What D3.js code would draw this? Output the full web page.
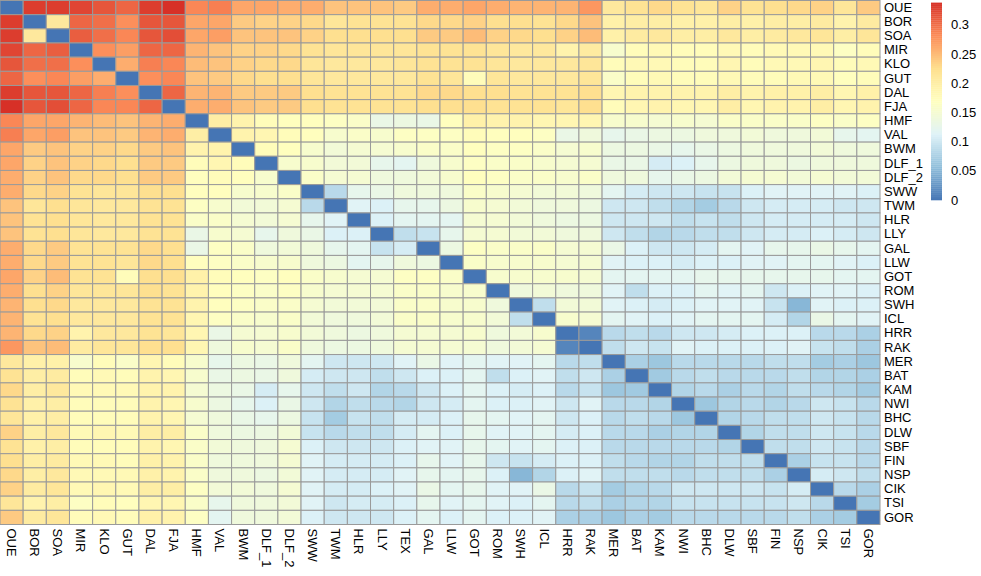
<!DOCTYPE html>
<html>
<head>
<meta charset="utf-8">
<script src="https://cdn.jsdelivr.net/npm/d3@7"></script>
<style>
  body { margin: 0; background: #fff; }
  text { font-family: "Liberation Sans", Arial, sans-serif; }
</style>
</head>
<body>
<svg id="screen"></svg>
<script>
//
// pairwise distance heatmap (pheatmap look-alike)
//

// population names, columns (TEX has no row of its own)
let populations = ["OUE","BOR","SOA","MIR","KLO","GUT","DAL","FJA","HMF","VAL","BWM","DLF_1","DLF_2",
  "SWW","TWM","HLR","LLY","TEX","GAL","LLW","GOT","ROM","SWH","ICL","HRR","RAK","MER","BAT","KAM",
  "NWI","BHC","DLW","SBF","FIN","NSP","CIK","TSI","GOR"]

let rowPopulations = populations.filter(d => d != "TEX")

// lower triangle: distLower[i][j] = distance between populations i and j (j < i)
let distLower = [
  [],
  [0.33],
  [0.33,0.21],
  [0.325,0.305,0.31],
  [0.315,0.30,0.30,0.28],
  [0.305,0.28,0.285,0.27,0.26],
  [0.33,0.315,0.315,0.305,0.29,0.28],
  [0.338,0.315,0.32,0.305,0.285,0.285,0.305],
  [0.285,0.265,0.265,0.255,0.25,0.245,0.255,0.26],
  [0.29,0.265,0.27,0.245,0.245,0.24,0.255,0.26,0.20],
  [0.265,0.24,0.245,0.235,0.235,0.23,0.24,0.245,0.19,0.19],
  [0.265,0.235,0.245,0.235,0.23,0.225,0.24,0.24,0.175,0.185,0.175],
  [0.26,0.235,0.245,0.23,0.23,0.225,0.24,0.24,0.17,0.175,0.17,0.155],
  [0.26,0.23,0.235,0.22,0.215,0.215,0.225,0.225,0.17,0.17,0.155,0.155,0.16],
  [0.245,0.215,0.225,0.215,0.21,0.21,0.22,0.22,0.165,0.155,0.145,0.145,0.15,0.085],
  [0.245,0.22,0.225,0.215,0.21,0.21,0.22,0.22,0.16,0.16,0.15,0.145,0.15,0.125,0.115],
  [0.245,0.22,0.225,0.215,0.21,0.21,0.22,0.22,0.13,0.155,0.15,0.125,0.14,0.13,0.11,0.11],
  [0.24,0.22,0.225,0.215,0.215,0.21,0.22,0.22,0.135,0.165,0.155,0.12,0.14,0.14,0.125,0.12,0.09],
  [0.26,0.23,0.24,0.22,0.22,0.22,0.23,0.225,0.13,0.165,0.16,0.14,0.145,0.14,0.125,0.12,0.095,0.105],
  [0.26,0.23,0.24,0.22,0.22,0.215,0.23,0.225,0.17,0.165,0.16,0.155,0.155,0.14,0.135,0.12,0.125,0.14,0.135],
  [0.265,0.235,0.25,0.22,0.22,0.175,0.225,0.225,0.195,0.175,0.17,0.165,0.17,0.16,0.155,0.15,0.15,0.165,0.165,0.16],
  [0.26,0.225,0.235,0.215,0.215,0.215,0.225,0.22,0.19,0.17,0.165,0.16,0.165,0.155,0.15,0.15,0.15,0.16,0.16,0.155,0.155],
  [0.255,0.225,0.23,0.21,0.21,0.21,0.22,0.22,0.19,0.17,0.165,0.16,0.16,0.15,0.145,0.145,0.145,0.16,0.16,0.155,0.155,0.14],
  [0.255,0.22,0.225,0.21,0.21,0.21,0.22,0.22,0.185,0.165,0.16,0.155,0.16,0.145,0.14,0.14,0.145,0.16,0.16,0.155,0.155,0.145,0.09],
  [0.255,0.23,0.235,0.19,0.21,0.21,0.22,0.215,0.185,0.13,0.15,0.15,0.155,0.145,0.14,0.135,0.14,0.15,0.15,0.15,0.155,0.14,0.145,0.155],
  [0.275,0.245,0.25,0.205,0.215,0.215,0.225,0.225,0.185,0.14,0.155,0.15,0.16,0.14,0.135,0.135,0.14,0.15,0.15,0.15,0.15,0.14,0.145,0.15,0.012],
  [0.21,0.195,0.195,0.155,0.175,0.16,0.185,0.175,0.155,0.125,0.135,0.13,0.14,0.12,0.10,0.10,0.10,0.115,0.13,0.115,0.12,0.115,0.115,0.12,0.085,0.09],
  [0.22,0.20,0.205,0.175,0.18,0.175,0.19,0.185,0.155,0.13,0.135,0.13,0.14,0.105,0.10,0.10,0.09,0.10,0.11,0.11,0.12,0.09,0.11,0.115,0.09,0.10,0.075],
  [0.23,0.20,0.21,0.18,0.18,0.18,0.19,0.19,0.15,0.135,0.13,0.105,0.125,0.10,0.09,0.10,0.08,0.085,0.10,0.11,0.12,0.11,0.105,0.11,0.085,0.095,0.065,0.068],
  [0.22,0.195,0.20,0.175,0.175,0.175,0.19,0.185,0.155,0.135,0.125,0.11,0.13,0.10,0.08,0.09,0.085,0.08,0.10,0.105,0.12,0.11,0.11,0.115,0.10,0.115,0.085,0.085,0.08],
  [0.215,0.195,0.20,0.175,0.175,0.175,0.19,0.185,0.15,0.14,0.13,0.125,0.135,0.095,0.07,0.095,0.09,0.105,0.105,0.11,0.125,0.12,0.115,0.12,0.10,0.11,0.085,0.09,0.085,0.065],
  [0.235,0.20,0.21,0.18,0.185,0.18,0.20,0.20,0.16,0.14,0.135,0.135,0.145,0.095,0.085,0.09,0.09,0.105,0.12,0.11,0.125,0.115,0.115,0.12,0.105,0.11,0.085,0.085,0.075,0.08,0.08],
  [0.22,0.195,0.20,0.175,0.175,0.175,0.19,0.185,0.16,0.145,0.14,0.14,0.15,0.11,0.10,0.10,0.10,0.11,0.115,0.115,0.125,0.12,0.115,0.12,0.11,0.11,0.085,0.085,0.085,0.085,0.085,0.08],
  [0.225,0.20,0.205,0.18,0.18,0.175,0.195,0.19,0.16,0.14,0.14,0.14,0.15,0.115,0.105,0.105,0.105,0.11,0.125,0.115,0.125,0.10,0.095,0.105,0.11,0.11,0.09,0.085,0.08,0.08,0.09,0.09,0.09],
  [0.23,0.20,0.21,0.18,0.18,0.18,0.195,0.19,0.16,0.14,0.14,0.135,0.145,0.115,0.105,0.105,0.105,0.115,0.125,0.12,0.125,0.11,0.05,0.08,0.11,0.115,0.09,0.09,0.09,0.085,0.09,0.09,0.09,0.075],
  [0.235,0.205,0.215,0.18,0.185,0.18,0.20,0.20,0.165,0.145,0.145,0.14,0.15,0.115,0.105,0.105,0.11,0.115,0.13,0.12,0.125,0.115,0.115,0.13,0.085,0.095,0.07,0.08,0.085,0.10,0.10,0.10,0.10,0.095,0.105],
  [0.215,0.19,0.20,0.165,0.175,0.17,0.185,0.185,0.16,0.125,0.14,0.14,0.145,0.115,0.10,0.105,0.105,0.11,0.125,0.115,0.12,0.115,0.11,0.12,0.085,0.09,0.075,0.08,0.08,0.095,0.095,0.095,0.095,0.095,0.10,0.085],
  [0.24,0.205,0.215,0.175,0.18,0.175,0.195,0.19,0.165,0.12,0.14,0.14,0.145,0.11,0.10,0.10,0.10,0.11,0.12,0.11,0.12,0.11,0.11,0.115,0.075,0.075,0.065,0.075,0.07,0.085,0.085,0.085,0.085,0.085,0.09,0.075,0.07]
]

let legendTicks = [0, 0.05, 0.1, 0.15, 0.2, 0.25, 0.3]

// RdYlBu (7), reversed, as pheatmap uses
let palette = ["#4575B4","#91BFDB","#E0F3F8","#FFFFBF","#FEE090","#FC8D59","#D73027"]

//---------------------------------------

let svg = {width: 981, height: 576}
let grid = {left: 0, top: 0.5, width: 880, height: 524}

let frame = d3.select('#screen')
frame.attr("width", svg.width)
     .attr("height", svg.height)

// look up a distance from the lower triangle
function dist(a, b) {
  let i = populations.indexOf(a)
  let j = populations.indexOf(b)
  if (i == j) return 0
  return i > j ? distLower[i][j] : distLower[j][i]
}

// build cells
let cells = []
rowPopulations.forEach(function(r) {
  populations.forEach(function(c) {
    cells.push({row: r, col: c, value: dist(r, c)})
  })
})

let maxValue = d3.max(cells, d => d.value)

let x = d3.scaleBand().domain(populations).range([grid.left, grid.left + grid.width])
let y = d3.scaleBand().domain(rowPopulations).range([grid.top, grid.top + grid.height])
let color = d3.scaleLinear()
              .domain(palette.map((d, i) => i * maxValue / (palette.length - 1)))
              .range(palette)

// part 1) the cells
let map = frame.append("g").attr("id", "map")
map.selectAll("rect")
   .data(cells)
   .enter()
   .append("rect")
   .attr("x", d => x(d.col))
   .attr("y", d => y(d.row))
   .attr("width", x.bandwidth())
   .attr("height", y.bandwidth())
   .attr("fill", d => color(d.value))
   .attr("stroke", "#9a9a9a")
   .attr("stroke-width", 1)

// part 2) labels
let rowAxis = frame.append("g")
   .attr("transform", "translate(" + (grid.left + grid.width) + ",0)")
   .call(d3.axisRight(y).tickSize(0).tickPadding(4))
rowAxis.select(".domain").remove()
rowAxis.selectAll("text")
   .attr("font-size", 13)
   .attr("font-family", "Liberation Sans, Arial, sans-serif")
   .attr("fill", "#000")

let colAxis = frame.append("g")
   .attr("transform", "translate(0," + (grid.top + grid.height) + ")")
   .call(d3.axisBottom(x).tickSize(0))
colAxis.select(".domain").remove()
colAxis.selectAll("text")
   .attr("transform", "rotate(90)")
   .attr("x", 4)
   .attr("y", 0)
   .attr("dy", "0.35em")
   .attr("text-anchor", "start")
   .attr("font-size", 13)
   .attr("font-family", "Liberation Sans, Arial, sans-serif")
   .attr("fill", "#000")

// part 3) colour legend
let legend = {x: 931, width: 11, bottom: 200}
let legendY = d3.scaleLinear().domain([0, 0.05]).range([legend.bottom, legend.bottom - 29.2])
let steps = d3.range(100).map(i => i * maxValue / 100)
let stepH = legendY(0) - legendY(maxValue / 100)

frame.append("g")
   .selectAll("rect")
   .data(steps)
   .enter()
   .append("rect")
   .attr("x", legend.x)
   .attr("y", d => legendY(d) - stepH)
   .attr("width", legend.width)
   .attr("height", stepH + 0.3)
   .attr("fill", d => color(d + maxValue / 200))

let legendAxis = frame.append("g")
   .attr("transform", "translate(" + (legend.x + legend.width) + ",0)")
   .call(d3.axisRight(legendY).tickValues(legendTicks).tickSize(0).tickPadding(9).tickFormat(d => d))
legendAxis.select(".domain").remove()
legendAxis.selectAll("text")
   .attr("font-size", 13)
   .attr("font-family", "Liberation Sans, Arial, sans-serif")
   .attr("fill", "#000")
</script>
</body>
</html>
